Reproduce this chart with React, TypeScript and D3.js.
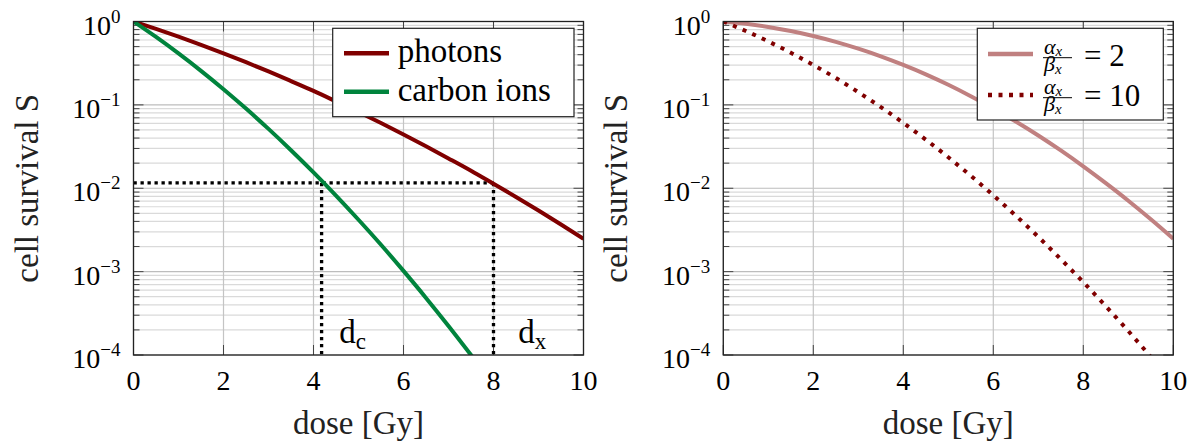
import React from "react";
import * as d3 from "d3";

// dose samples [Gy]
const doses = [0, 0.5, 1, 1.5, 2, 2.5, 3, 3.5, 4, 4.5, 5, 5.5, 6, 6.5, 7, 7.5, 8, 8.5, 9, 9.5, 10];

// left panel: survival
const photons = [1, 0.815, 0.657, 0.525, 0.415, 0.325, 0.252, 0.193, 0.147, 0.11, 0.082, 0.0605, 0.0442, 0.0319, 0.0228, 0.0162, 0.0113, 0.00787, 0.00541, 0.00368, 0.00248];
const carbonIons = [1, 0.652, 0.414, 0.256, 0.154, 0.0902, 0.0515, 0.0286, 0.0155, 0.00817, 0.00419, 0.0021, 0.00102, 0.000484, 0.000223, 0.0001, 0.000044];

// right panel
const ratio2 = [1, 0.939, 0.861, 0.769, 0.67, 0.57, 0.472, 0.382, 0.301, 0.232, 0.174, 0.127, 0.0907, 0.0631, 0.0429, 0.0284, 0.0183, 0.0115, 0.00708, 0.00424, 0.00248];
const ratio10 = [1, 0.769, 0.577, 0.422, 0.301, 0.21, 0.142, 0.0942, 0.0608, 0.0383, 0.0235, 0.0141, 0.00823, 0.00469, 0.00261, 0.00141, 0.000747, 0.000385, 0.000194, 0.0000948, 0.0000454];

// iso-effect guide lines
const isoLevel = 0.0116;
const isoDoses = [4.18, 8];

const xTicks = [0, 2, 4, 6, 8, 10];
const yExponents = [0, -1, -2, -3, -4];

const W = 1199;
const H = 448;
const top = 21.5;
const bottom = 355;
const serif: React.CSSProperties = { fontFamily: '"Liberation Serif", "DejaVu Serif", "Times New Roman", serif' };

const DARKRED = "#800000";
const GREEN = "#00843d";
const PINK = "#c08080";

type Series = { values: number[]; color: string; dash?: string };

function Panel({ x0, id, series, children }: { x0: number; id: string; series: Series[]; children?: (x: d3.ScaleLinear<number, number>, y: d3.ScaleLogarithmic<number, number>) => React.ReactNode }) {
  const x = d3.scaleLinear().domain([0, 10]).range([x0, x0 + 450]);
  const y = d3.scaleLog().domain([1e-4, 1]).range([bottom, top]);
  const minor = y.ticks().filter((t) => !yExponents.some((e) => Math.abs(Math.log10(t) - e) < 1e-6));
  const line = d3
    .line<number>()
    .x((_, i) => x(doses[i]))
    .y((d) => y(d))
    .curve(d3.curveMonotoneX);

  return (
    <g>
      <defs>
        <clipPath id={id}>
          <rect x={x(0)} y={top} width={450} height={bottom - top} />
        </clipPath>
      </defs>
      {/* grid */}
      {minor.map((t) => (
        <line key={"m" + t} x1={x(0)} x2={x(10)} y1={y(t)} y2={y(t)} stroke="#dadada" strokeWidth={1.2} />
      ))}
      {yExponents.map((e) => (
        <line key={"M" + e} x1={x(0)} x2={x(10)} y1={y(10 ** e)} y2={y(10 ** e)} stroke="#bdbdbd" strokeWidth={1.2} />
      ))}
      {xTicks.map((t) => (
        <line key={"x" + t} x1={x(t)} x2={x(t)} y1={top} y2={bottom} stroke="#c4c4c4" strokeWidth={1.2} />
      ))}
      {/* ticks */}
      {minor.map((t) => (
        <g key={"mt" + t} stroke="#444" strokeWidth={1}>
          <line x1={x(0)} x2={x(0) + 6} y1={y(t)} y2={y(t)} />
          <line x1={x(10)} x2={x(10) - 6} y1={y(t)} y2={y(t)} />
        </g>
      ))}
      {yExponents.map((e) => (
        <g key={"Mt" + e} stroke="#444" strokeWidth={1}>
          <line x1={x(0)} x2={x(0) + 10} y1={y(10 ** e)} y2={y(10 ** e)} />
          <line x1={x(10)} x2={x(10) - 10} y1={y(10 ** e)} y2={y(10 ** e)} />
        </g>
      ))}
      {xTicks.map((t) => (
        <g key={"xt" + t} stroke="#444" strokeWidth={1}>
          <line x1={x(t)} x2={x(t)} y1={bottom} y2={bottom - 10} />
          <line x1={x(t)} x2={x(t)} y1={top} y2={top + 10} />
        </g>
      ))}
      {children && children(x, y)}
      <g clipPath={`url(#${id})`}>
        {series.map((s, i) => (
          <path key={i} d={line(s.values) || ""} fill="none" stroke={s.color} strokeWidth={4} strokeDasharray={s.dash} />
        ))}
      </g>
      <rect x={x(0)} y={top} width={450} height={bottom - top} fill="none" stroke="#222" strokeWidth={1.3} />
      {/* tick labels */}
      {xTicks.map((t) => (
        <text key={"xl" + t} x={x(t)} y={390} textAnchor="middle" fontSize={28} style={serif} fill="#000">
          {t}
        </text>
      ))}
      {yExponents.map((e) => (
        <text key={"yl" + e} x={x(0) - 13} y={y(10 ** e) + 13} textAnchor="end" fontSize={28} style={serif} fill="#000">
          10
          <tspan dy={-12} fontSize={19}>
            {e === 0 ? "0" : "\u2212" + Math.abs(e)}
          </tspan>
        </text>
      ))}
      <text x={x(5)} y={434} textAnchor="middle" fontSize={33} style={serif} fill="#222">
        dose [Gy]
      </text>
      <text
        transform={`translate(${x0 - 96},${(top + bottom) / 2}) rotate(-90)`}
        textAnchor="middle"
        fontSize={33}
        style={serif}
        fill="#222"
      >
        cell survival S
      </text>
    </g>
  );
}

// stacked α_x / β_x
function Fraction({ x, barY }: { x: number; barY: number }) {
  return (
    <g fill="#000">
      <text x={x + 1} y={barY - 4} fontSize={22} fontStyle="italic" style={serif}>
        α<tspan fontSize={15} dy={2}>x</tspan>
        <tspan x={x + 1} dy={15} fontSize={22}>β</tspan>
        <tspan fontSize={15} dy={3}>x</tspan>
      </text>
      <line x1={x} x2={x + 29} y1={barY} y2={barY} stroke="#000" strokeWidth={1} />
    </g>
  );
}

export default function App() {
  const leftX0 = 133.5;
  const rightX0 = 723.3;
  return (
    <svg width={W} height={H} style={{ position: "absolute", left: 0, top: 0, background: "#fff" }}>
      <Panel
        x0={leftX0}
        id="clipL"
        series={[
          { values: photons, color: DARKRED },
          { values: carbonIons, color: GREEN },
        ]}
      >
        {(x, y) => (
          <g>
            <g stroke="#000" strokeWidth={3.3} strokeDasharray="3.3 3.7" fill="none">
              <line x1={x(0)} x2={x(isoDoses[1])} y1={y(isoLevel)} y2={y(isoLevel)} />
              {isoDoses.map((d) => (
                <line key={d} x1={x(d)} x2={x(d)} y1={y(isoLevel)} y2={bottom} />
              ))}
            </g>
            <text x={x(4.57)} y={343} fontSize={33} style={serif} fill="#000">
              d<tspan fontSize={23} dy={6}>c</tspan>
            </text>
            <text x={x(8.55)} y={343} fontSize={33} style={serif} fill="#000">
              d<tspan fontSize={23} dy={6}>x</tspan>
            </text>
          </g>
        )}
      </Panel>
      {/* left legend */}
      <g>
        <rect x={332.7} y={28.3} width={241.3} height={88.4} fill="#fff" stroke="#222" strokeWidth={1.2} />
        <line x1={344} x2={389} y1={53.3} y2={53.3} stroke={DARKRED} strokeWidth={4.5} />
        <line x1={344} x2={389} y1={91.7} y2={91.7} stroke={GREEN} strokeWidth={4.5} />
        <text x={397.7} y={61.7} fontSize={33} style={serif} fill="#000">
          photons
        </text>
        <text x={397.7} y={101} fontSize={33} style={serif} fill="#000">
          carbon ions
        </text>
      </g>

      <Panel
        x0={rightX0}
        id="clipR"
        series={[
          { values: ratio2, color: PINK },
          { values: ratio10, color: DARKRED, dash: "4 6.5" },
        ]}
      />
      {/* right legend */}
      <g>
        <rect x={977.3} y={28.3} width={186} height={91.7} fill="#fff" stroke="#222" strokeWidth={1.2} />
        <line x1={988} x2={1033} y1={54} y2={54} stroke={PINK} strokeWidth={4.5} />
        <line x1={988} x2={1033} y1={95} y2={95} stroke={DARKRED} strokeWidth={4.5} strokeDasharray="4 6.5" />
        <Fraction x={1043} barY={57.7} />
        <Fraction x={1043} barY={97.7} />
        <text x={1084} y={66} fontSize={31} style={serif} fill="#000">
          = 2
        </text>
        <text x={1084} y={106} fontSize={31} style={serif} fill="#000">
          = 10
        </text>
      </g>
    </svg>
  );
}
